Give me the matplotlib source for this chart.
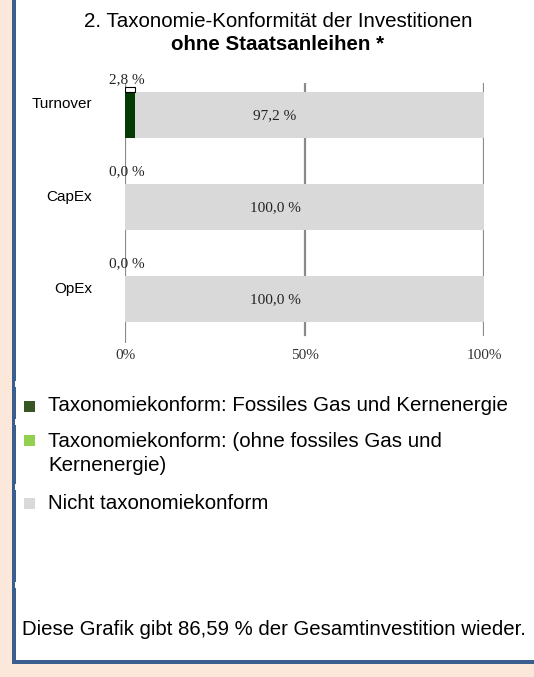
import numpy as np
import matplotlib
matplotlib.use('Agg')
from matplotlib import pyplot as plt
from matplotlib.patches import Rectangle
import matplotlib.transforms as mtransforms

# data
categories = ['Turnover', 'CapEx', 'OpEx']
fossil_nuclear = [2.8, 0.0, 0.0]
green_other = [0.0, 0.0, 0.0]
not_aligned = [97.2, 100.0, 100.0]
top_labels = ['2,8 %', '0,0 %', '0,0 %']
inner_labels = ['97,2 %', '100,0 %', '100,0 %']
xticks = [0, 50, 100]
xticklabels = ['0%', '50%', '100%']
legend_labels = ['Taxonomiekonform: Fossiles Gas und Kernenergie',
                 'Taxonomiekonform: (ohne fossiles Gas und\nKernenergie)',
                 'Nicht taxonomiekonform']

W, H = 534, 677
bg = '#fce8db'
border = '#3a5f8f'
c_dark = '#053a05'
c_legdark = '#375623'
c_green = '#92d050'
c_grey = '#d9d9d9'
sans = 'Liberation Sans'
serif = 'Liberation Serif'

fig = plt.figure(figsize=(W/100, H/100), dpi=100)
fig.patch.set_facecolor(bg)

def px(x, y):
    return x / W, 1 - y / H

def frect(x0, y0, x1, y1, color, z):
    # rectangle in pixel coords (top-left origin)
    fig.patches.append(Rectangle((x0 / W, 1 - y1 / H), (x1 - x0) / W, (y1 - y0) / H,
                                 transform=fig.transFigure, facecolor=color,
                                 edgecolor='none', zorder=z))

# white panel with blue border (left + bottom)
frect(16, 0, W, 660, 'white', -2)
frect(12, 0, 16, 664, border, -1)
frect(12, 660, W, 664, border, -1)
for yn in [384, 422, 487, 585]:
    frect(15, yn - 3, 16, yn + 3, 'white', -1)

# title
fig.text(*px(278, 27), '2. Taxonomie-Konformität der Investitionen', ha='center', va='baseline',
         fontsize=14.8, family=sans)
fig.text(*px(278, 50), 'ohne Staatsanleihen *', ha='center', va='baseline',
         fontsize=14.8, family=sans, fontweight='bold')

# axes: 0% at x=125, 100% at x=484, top 83, bottom 343
ax_l, ax_r, ax_t, ax_b = 125, 484, 83, 343
ax = fig.add_axes([ax_l / W, 1 - ax_b / H, (ax_r - ax_l) / W, (ax_b - ax_t) / H])
ax.set_facecolor('none')
y = np.arange(len(categories))
bh = 0.5
ax.barh(y, fossil_nuclear, height=bh, color=c_dark, zorder=3)
ax.barh(y, green_other, left=fossil_nuclear, height=bh, color=c_green, zorder=3)
left2 = np.array(fossil_nuclear) + np.array(green_other)
ax.barh(y, not_aligned, left=left2, height=bh, color=c_grey, zorder=3)
ax.set_xlim(0, 100)
# bar centres at 114.5, 206, 298 px -> 92 px per category
ax.set_ylim((ax_b - 114.5) / 92, -(114.5 - ax_t) / 92)
for s in ax.spines.values():
    s.set_visible(False)
ax.axvline(0, color='#8a8a8a', lw=1.6, zorder=1)
for xv in xticks[1:]:
    ax.axvline(xv, ymin=8 / (ax_b - ax_t), color='#8a8a8a', lw=1.6, zorder=1)
ax.set_xticks(xticks)
ax.set_xticklabels(xticklabels, family=serif, fontsize=11, color='#333333')
ax.tick_params(axis='x', length=0, pad=4)
ax.set_yticks([])

trans = mtransforms.blended_transform_factory(ax.transAxes, ax.transData)
for i, cat in enumerate(categories):
    ax.text((92 - ax_l) / (ax_r - ax_l), i - 6 / 92, cat, transform=trans, ha='right',
            va='baseline', fontsize=11, family=sans)
    ax.text(0.6, i - bh / 2 - 8.5 / 92, top_labels[i], ha='center', va='baseline',
            fontsize=11, family=serif, color='#222222', zorder=5)
    ax.text(41.8, i + 4.5 / 92, inner_labels[i], ha='center', va='baseline',
            fontsize=11, family=serif, color='#222222', zorder=5)

# leader bracket above the small turnover segment
ax.add_patch(Rectangle((0, -bh / 2 - 5 / 92), fossil_nuclear[0], 5 / 92, facecolor='white',
                       edgecolor='black', lw=0.8, zorder=4))

# legend: (colour, square bottom px, first-line baseline px)
leg_items = [(c_legdark, 412, 411), (c_green, 446, 447), (c_grey, 509, 509)]
for (col, yb, yt), lab in zip(leg_items, legend_labels):
    frect(24, yb - 11, 35, yb, col, 1)
    for k, line in enumerate(lab.split('\n')):
        fig.text(*px(48, yt + 24 * k), line, ha='left', va='baseline', fontsize=14.8,
                 family=sans)

fig.text(*px(22, 635), 'Diese Grafik gibt 86,59 % der Gesamtinvestition wieder.', ha='left',
         va='baseline', fontsize=14.7, family=sans)

fig.savefig('out.png', dpi=100, facecolor=bg)
